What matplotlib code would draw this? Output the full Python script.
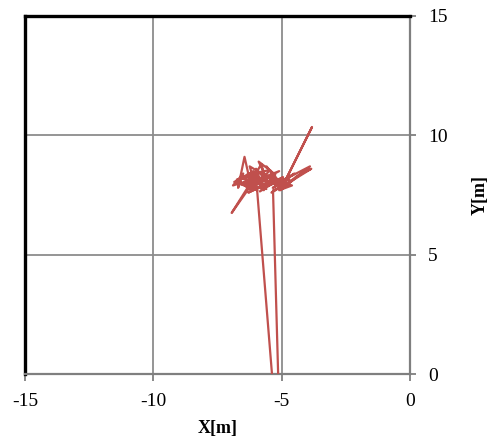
import matplotlib
matplotlib.use("Agg")
import matplotlib.pyplot as plt

# trajectory of the tracked point, metres
track_x = [-5.38, -5.96, -6.30, -6.90, -6.50, -6.70, -6.45, -6.20, -6.95, -6.10,
           -5.80, -5.60, -6.00, -5.70, -5.30, -5.90, -5.50, -6.30, -5.20, -5.60,
           -5.00, -5.40, -4.80, -5.70, -4.60, -5.10, -4.40, -3.85, -4.60, -5.00,
           -3.82, -5.05, -3.90, -4.80, -5.50, -6.60, -6.10, -5.80, -6.40, -6.00,
           -6.75, -6.20, -5.90, -6.55, -5.75, -6.15, -5.45, -6.35, -5.65, -6.05,
           -5.25, -5.85, -4.95, -5.55, -4.70, -5.35, -4.50, -5.15, -6.25, -5.95,
           -6.85, -6.05, -5.60, -6.40, -5.10, -5.80, -4.90, -5.34, -5.14]
track_y = [0.00, 7.72, 8.10, 7.90, 8.40, 7.80, 9.10, 7.90, 6.75, 8.20,
           8.80, 8.10, 8.60, 7.70, 8.40, 8.90, 8.00, 7.60, 8.20, 8.70,
           7.90, 7.60, 8.00, 8.30, 7.90, 7.70, 8.30, 8.60, 8.10, 7.80,
           10.35, 7.70, 8.70, 8.20, 7.90, 8.20, 8.50, 7.80, 8.00, 8.30,
           8.15, 7.70, 8.45, 7.95, 8.25, 7.75, 8.55, 8.35, 7.85, 8.05,
           8.35, 7.65, 8.25, 7.95, 8.15, 7.80, 8.40, 8.00, 8.70, 7.70,
           8.05, 8.45, 7.75, 7.95, 8.50, 8.10, 7.85, 7.70, 0.00]

x_ticks = [-15, -10, -5, 0]
y_ticks = [0, 5, 10, 15]

plt.rcParams['font.family'] = ['Liberation Serif', 'DejaVu Serif']
plt.rcParams['axes.unicode_minus'] = False

fig = plt.figure(figsize=(4.95, 4.38), dpi=100)
ax = fig.add_axes([0.0505, 0.146, 0.778, 0.8175])

ax.plot(track_x, track_y, color='#C0504D', linewidth=1.6, zorder=3)

ax.set_xlim(-15, 0)
ax.set_ylim(0, 15)
ax.set_xticks(x_ticks)
ax.set_yticks(y_ticks)
ax.yaxis.tick_right()
ax.yaxis.set_label_position('right')

ax.grid(True, color='#8c8c8c', linewidth=1.3)
ax.set_axisbelow(True)

# outer border: heavy black top/left, grey axis lines bottom/right
for side in ('top', 'left'):
    ax.spines[side].set_color('black')
    ax.spines[side].set_linewidth(2.4)
for side in ('bottom', 'right'):
    ax.spines[side].set_color('#7f7f7f')
    ax.spines[side].set_linewidth(1.6)

ax.tick_params(axis='x', direction='out', length=5, width=1.3, color='#7f7f7f',
               pad=9, labelsize=14)
ax.tick_params(axis='y', direction='out', length=4, width=1.3, color='#7f7f7f',
               pad=9, labelsize=14)

ax.set_xlabel('X[m]', fontsize=13, fontweight='bold', labelpad=7)
ax.set_ylabel('Y[m]', fontsize=13, fontweight='bold', labelpad=17)

fig.savefig('out.png', dpi=100)
